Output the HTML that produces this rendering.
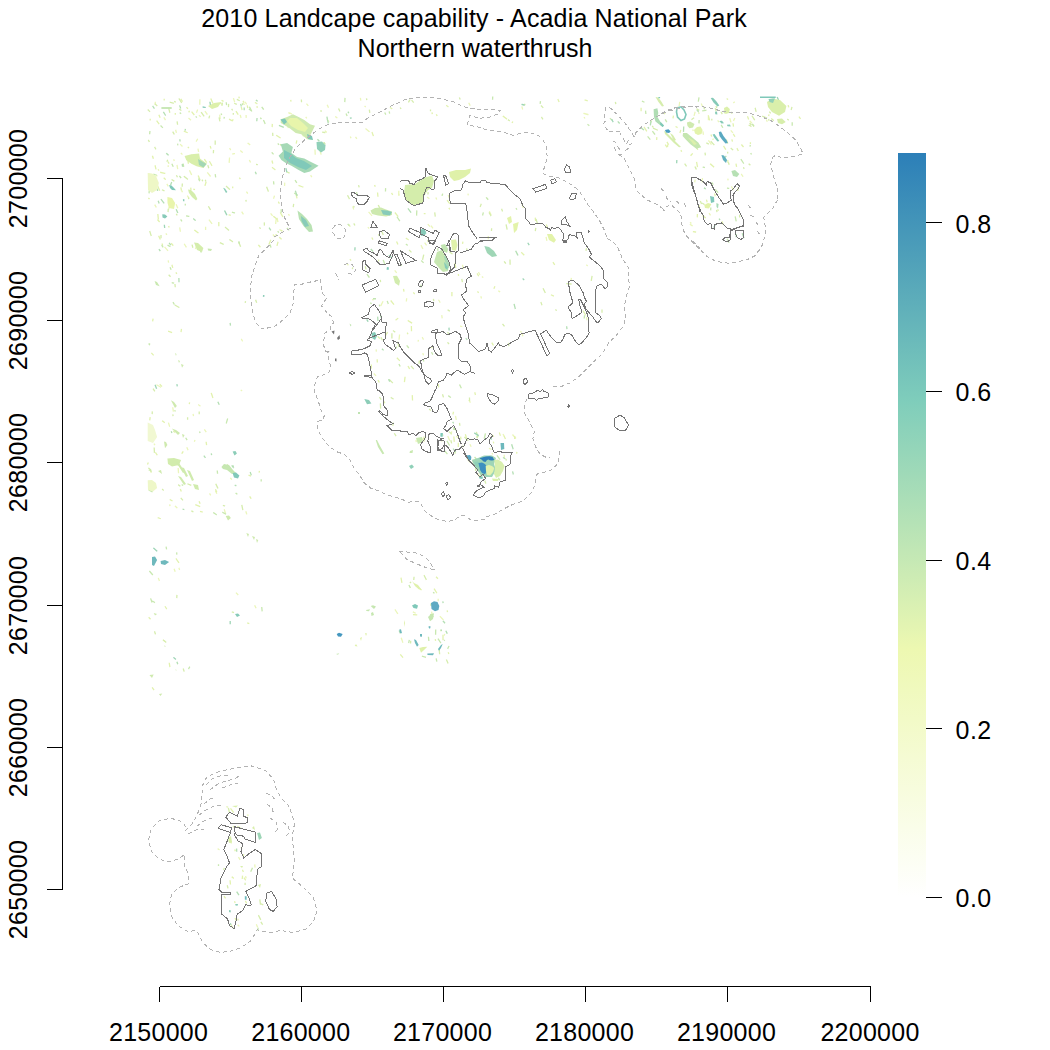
<!DOCTYPE html>
<html><head><meta charset="utf-8">
<style>
html,body{margin:0;padding:0;background:#fff;width:1050px;height:1050px;overflow:hidden;}
body{position:relative;font-family:"Liberation Sans",sans-serif;color:#000;}
.t{position:absolute;white-space:nowrap;font-size:25px;line-height:1;}
.yl{width:200px;height:25px;text-align:center;transform:rotate(-90deg);letter-spacing:0.3px;}
svg{position:absolute;left:0;top:0;}
</style></head><body>
<svg width="1050" height="1050" viewBox="0 0 1050 1050">
<defs>
<linearGradient id="cb" x1="0" y1="1" x2="0" y2="0">
<stop offset="0" stop-color="#ffffff"/>
<stop offset="0.3333" stop-color="#edf8b1"/>
<stop offset="0.6667" stop-color="#7fcdbb"/>
<stop offset="1" stop-color="#2c7fb8"/>
</linearGradient>
</defs>
<g id="map">
<g id="speckles" fill="none" stroke-width="1.3" stroke-linecap="square">
<path stroke="#ebf6bb" d="M182.0 191.2l0.2 0.4M155.0 205.2l1.0 1.7M177.1 165.5l0.5 3.0M199.9 100.0l-0.1 4.0M180.6 144.6l1.4 1.4M196.3 246.5l-0.7 1.9M167.2 184.5l0.8 1.3M155.3 102.4l-0.2 1.5M184.5 244.3l1.6 2.5M164.2 117.9l1.0 1.7M198.1 149.3l0.4 2.0M166.2 234.0l0.3 0.4M197.4 139.3l-1.0 1.7M181.3 153.4l0.7 0.7M158.4 169.7l0.2 0.4M168.2 165.9l0.0 0.5M165.0 247.3l2.6 3.1M148.8 174.2l1.4 0.6M189.0 118.5l1.5 1.3M197.4 110.2l-0.7 1.9M173.9 159.9l0.2 0.5M199.4 115.7l0.8 0.6M175.8 130.4l0.5 1.9M179.8 228.1l0.5 3.0M176.3 204.8l1.2 2.8M189.7 170.8l1.7 3.6M156.6 175.4l0.3 0.4M169.1 207.6l-0.4 1.4M187.6 196.1l0.9 1.2M219.8 115.3l0.3 3.0M246.1 115.7l0.1 1.5M245.5 102.5l0.8 1.3M233.6 98.7l0.9 2.9M243.0 103.5l1.3 0.7M240.4 115.5l0.5 1.9M220.7 103.3l1.2 0.9M205.3 111.6l1.7 2.4M248.1 143.3l1.6 1.2M249.6 160.6l0.7 1.3M229.9 148.7l0.5 0.8M240.8 150.9l1.5 1.3M209.3 220.1l2.4 3.2M205.6 227.4l0.0 2.0M229.5 158.2l-0.3 4.0M246.8 192.2l0.6 0.8M242.0 212.1l1.1 1.7M207.7 172.9l2.5 3.1M232.9 153.9l1.5 -0.2M168.3 261.1l0.2 1.0M157.0 385.1l3.5 1.9M241.2 390.3l0.4 0.3M241.6 339.5l0.7 1.3M169.8 505.0l0.1 0.5M198.7 404.9l1.2 0.9M168.6 423.2l0.9 2.9M215.7 491.4l0.9 1.8M209.9 494.0l0.5 0.8M178.2 468.6l0.3 4.0M194.8 440.6l-0.2 0.5M175.4 506.3l1.5 1.4M246.0 511.9l0.6 1.9M172.8 407.9l0.5 3.0M154.3 444.2l0.3 0.4M230.7 478.3l0.7 0.8M224.4 509.9l0.9 2.9M204.7 430.0l1.2 1.6M187.0 447.8l0.8 1.8M193.2 414.6l0.2 1.0M158.5 578.5l0.7 1.9M179.1 568.4l0.3 1.0M163.8 640.5l0.8 0.6M174.3 569.3l0.7 1.9M236.4 593.1l1.4 1.4M254.9 605.8l0.9 1.8M311.0 175.7l0.5 0.9M360.5 98.5l0.2 1.5M355.9 137.5l0.6 0.8M290.0 113.2l1.4 0.6M306.9 104.1l1.0 1.2M286.0 153.0l-0.1 0.5M366.0 128.9l3.1 2.5M335.7 116.8l1.2 0.9M306.1 117.5l0.3 0.4M274.3 196.2l-0.6 1.9M365.0 106.3l0.3 0.4M277.2 218.6l0.6 2.9M327.4 105.3l0.8 1.8M288.9 113.0l0.3 0.4M284.7 183.3l-0.1 2.0M323.6 142.8l0.0 2.0M325.2 131.1l1.1 1.0M271.0 213.8l1.2 1.6M280.0 229.8l1.3 0.8M302.3 134.2l1.0 1.7M287.8 126.1l0.4 1.4M350.6 137.2l0.2 0.5M276.1 219.4l-0.4 4.0M273.3 235.0l1.3 1.5M320.1 151.1l0.9 2.9M288.8 214.7l0.3 0.4M327.4 119.8l1.2 1.6M315.0 150.1l0.2 4.0M422.5 337.7l0.7 1.3M420.9 439.6l3.9 -0.9M468.1 194.3l0.1 0.5M441.5 440.0l0.3 0.9M416.1 440.5l0.1 1.0M399.1 194.3l-0.2 1.0M427.6 197.4l1.2 0.9M347.0 263.7l1.0 1.1M382.8 301.8l-1.8 3.6M398.8 191.5l-0.1 3.0M462.6 265.4l0.5 3.0M376.2 350.0l0.1 1.0M460.7 326.2l1.0 0.3M451.6 432.0l-0.3 2.0M448.4 195.7l0.8 1.9M406.6 298.9l-0.2 2.0M438.8 300.3l1.1 1.7M372.6 299.7l0.4 0.2M412.3 194.2l-0.1 3.0M374.2 374.0l1.4 1.4M369.0 212.4l2.6 3.0M455.6 416.4l0.6 2.9M418.3 340.4l-0.1 0.5M368.3 227.6l0.4 0.4M423.0 353.7l0.3 0.9M436.1 198.1l0.4 0.9M441.8 315.7l0.3 2.0M395.1 270.8l1.2 1.6M431.9 347.2l-0.2 0.5M421.3 245.7l1.3 2.7M425.0 243.2l1.2 1.6M431.4 226.2l1.2 1.6M418.1 438.5l0.4 2.0M399.5 335.1l-0.4 4.0M469.1 400.4l1.0 1.7M428.2 224.6l1.4 1.5M352.9 207.0l0.6 1.9M478.8 272.7l0.9 1.8M481.0 296.9l0.3 1.0M520.8 331.6l0.3 0.4M489.6 211.8l1.3 2.7M571.3 278.5l-0.2 1.5M498.8 291.1l0.8 0.5M546.2 237.4l0.6 2.9M586.8 265.2l0.4 0.3M522.2 204.3l0.8 2.9M482.4 276.9l0.4 0.3M488.3 236.6l-0.0 2.0M586.7 317.6l0.1 2.0M522.2 334.3l0.5 1.4M492.3 453.5l0.2 0.5M456.7 436.6l0.9 0.5M512.9 435.0l2.6 3.0M489.5 448.5l1.4 0.6M503.3 434.6l0.7 1.3M467.5 459.2l2.7 3.0M487.6 475.1l-0.0 1.0M470.2 444.8l0.7 1.4M487.6 470.4l0.1 0.5M475.5 458.9l-0.1 0.5M448.0 436.5l1.6 3.7M504.2 455.4l0.1 2.0M469.0 103.3l0.9 1.8M584.0 113.5l3.9 1.0M522.0 107.0l0.5 1.9M584.4 117.6l0.2 0.4M750.1 121.3l1.4 1.4M698.7 112.8l0.2 0.5M734.2 102.2l-0.4 0.3M702.4 178.7l-0.3 3.0M731.2 130.9l1.3 1.5M734.6 118.5l-0.8 1.8M779.4 109.8l1.0 1.7M695.0 112.4l-0.8 2.9M729.9 118.8l0.9 2.9M679.6 102.5l-0.4 3.0M701.5 104.2l0.8 1.8M718.0 120.9l0.6 0.8M741.6 174.5l1.1 1.7M703.0 132.1l0.3 2.0M708.4 115.6l-0.0 4.0M692.9 130.0l0.2 0.5M712.8 139.3l0.5 -0.1M776.8 106.1l0.3 0.4M708.8 140.9l2.3 3.3M766.6 120.2l0.4 0.9M709.4 213.6l0.8 1.3M699.3 205.9l0.3 2.0M690.4 224.5l1.7 1.1M690.5 222.7l0.4 0.3M695.1 180.2l-0.3 1.5M731.7 187.0l1.5 2.6M727.9 179.2l0.1 0.5M440.3 616.6l2.7 2.9M444.5 634.6l-0.1 0.5M438.2 599.5l0.0 1.0M440.7 630.3l0.3 0.4M401.4 638.3l1.3 3.8M395.3 610.0l2.2 3.3M413.4 612.2l1.8 0.8M431.7 612.3l0.3 1.5M218.2 849.0l0.8 0.5M247.8 814.9l0.1 0.5M230.7 924.3l2.1 3.4M238.8 857.6l1.0 1.7M238.1 925.2l0.7 0.7M245.7 876.7l0.3 1.0M256.6 924.9l0.8 1.8M254.8 865.0l0.2 2.0"/>
<path stroke="#e2f2ae" d="M157.9 220.0l1.3 1.5M189.2 111.4l-0.2 0.4M181.0 188.1l0.4 2.0M168.8 226.5l0.2 0.5M158.9 236.3l1.2 2.7M164.2 99.3l0.0 0.5M188.0 161.1l0.3 2.0M150.2 119.4l0.0 0.5M188.2 147.3l0.3 0.4M181.1 99.4l1.1 1.7M171.6 243.7l1.3 1.5M193.9 189.3l0.5 0.1M153.7 175.4l1.0 2.8M190.8 188.3l0.1 1.0M186.9 107.6l0.6 0.8M155.2 165.9l0.7 2.9M194.8 230.3l3.2 2.4M148.8 198.3l0.3 0.4M157.9 214.7l0.4 4.0M184.4 131.3l2.7 1.2M198.4 176.0l1.5 3.7M160.8 172.4l3.9 0.9M175.3 113.6l0.0 0.5M152.6 156.3l0.6 1.9M157.0 121.2l1.8 2.4M168.3 162.2l0.5 0.9M192.8 193.3l-0.4 2.0M157.9 186.4l1.5 3.7M162.2 244.1l0.3 0.9M159.1 115.3l0.8 1.9M192.0 112.2l1.9 2.3M164.2 178.2l1.1 1.0M236.3 111.6l1.6 2.5M229.6 119.4l1.8 0.9M222.1 100.6l0.9 0.5M241.4 107.5l0.5 1.9M243.3 101.4l0.5 0.8M239.0 97.2l0.1 0.5M257.1 106.8l0.1 0.5M232.9 119.8l-0.4 0.9M255.5 102.7l1.3 0.8M211.0 99.1l1.6 3.7M247.4 106.1l0.3 1.5M210.4 146.6l0.4 1.4M229.2 215.0l1.0 0.2M232.7 187.1l0.0 0.5M209.7 161.8l2.0 3.5M206.0 182.4l-0.9 2.9M218.8 222.6l-0.0 3.0M258.7 245.3l1.3 1.5M204.7 159.7l1.7 2.5M239.7 178.1l0.3 0.4M172.1 265.4l0.5 1.9M151.8 353.4l1.4 1.5M181.4 329.5l-0.3 2.0M153.0 319.3l-0.3 1.5M160.2 384.7l1.4 1.4M168.7 331.3l2.8 1.0M176.2 273.0l0.3 0.4M211.4 393.5l1.3 3.8M250.0 496.9l0.8 1.3M182.9 451.9l-0.8 1.3M170.3 499.7l1.7 1.0M195.9 504.9l3.7 1.5M158.3 517.9l1.9 0.6M180.5 489.5l0.6 1.4M206.2 442.4l0.3 2.0M259.3 471.6l-0.1 0.5M200.6 511.6l1.5 0.3M215.7 489.9l0.9 1.8M150.1 417.8l-0.3 2.0M199.3 501.8l0.6 1.4M162.6 421.1l1.6 1.2M173.8 431.5l0.8 0.6M189.5 402.9l-0.1 0.5M249.1 475.3l1.4 0.5M155.8 453.0l1.1 1.7M150.4 470.7l0.7 1.3M148.1 463.0l-0.4 0.9M165.3 606.8l1.1 1.7M169.3 663.4l0.5 3.0M149.1 617.7l1.0 1.1M176.3 559.0l2.3 3.3M152.5 688.0l1.2 1.6M247.8 623.1l0.9 0.3M277.9 242.4l-0.8 2.9M290.8 100.4l0.1 0.5M390.4 107.7l1.3 0.8M296.7 141.1l-0.4 2.0M318.9 144.5l0.7 0.7M299.1 185.6l3.7 1.4M272.1 161.1l0.5 1.9M272.5 167.7l2.4 1.8M286.6 153.8l2.0 3.5M279.7 237.6l1.5 1.3M278.6 202.2l0.5 0.9M280.6 213.0l2.0 3.4M276.7 135.6l3.4 2.1M273.8 216.6l3.1 2.5M281.5 230.7l0.5 0.2M372.2 132.7l1.0 2.8M272.3 124.5l-0.1 2.0M270.6 240.3l-1.5 3.7M296.2 194.9l0.7 2.9M276.1 234.6l0.1 1.0M377.6 193.1l0.3 3.0M372.1 238.1l0.5 0.9M377.2 359.9l0.1 2.0M395.3 213.0l2.5 3.1M391.9 193.5l0.5 0.8M408.3 366.6l1.0 1.8M387.3 332.6l-1.6 2.5M378.3 380.6l0.7 1.3M455.0 263.4l0.7 3.9M449.2 208.4l0.3 0.4M474.9 392.9l0.4 1.5M403.6 289.5l0.3 1.5M423.9 437.1l0.1 4.0M412.3 395.8l0.2 4.0M378.1 336.8l1.5 1.4M413.7 292.9l0.6 0.8M406.4 238.5l1.7 1.0M458.4 274.7l0.1 0.5M427.8 240.7l0.4 0.9M384.0 401.7l0.5 0.9M407.5 333.2l0.2 0.4M447.5 200.7l1.8 2.4M417.5 186.6l-0.6 2.9M391.1 301.0l2.5 3.1M462.8 242.3l-0.2 1.0M411.4 326.7l0.1 4.0M374.8 185.6l0.2 0.5M378.6 260.3l0.1 0.5M408.3 320.7l3.3 2.2M405.0 377.4l-0.5 4.0M397.7 318.6l-1.6 1.2M453.4 412.4l-0.4 1.5M438.4 384.7l0.2 2.0M350.3 259.6l0.3 0.4M349.0 225.0l0.9 1.2M397.3 358.2l2.1 2.2M424.4 213.6l0.5 -0.0M396.8 242.0l0.8 1.8M451.9 292.7l0.0 3.0M453.9 437.2l0.3 4.0M460.7 437.2l0.2 1.5M371.3 365.2l-0.1 3.0M477.9 291.9l0.3 0.4M477.4 274.0l1.0 1.7M553.3 262.6l1.1 1.7M521.7 252.7l2.1 2.1M535.3 218.3l0.2 2.0M546.5 225.0l0.8 1.9M494.7 286.8l-0.6 1.4M583.4 311.2l2.0 3.5M492.1 343.2l1.0 1.7M551.5 295.0l1.8 0.8M497.6 472.7l1.3 1.5M493.5 442.3l0.1 0.5M477.7 473.6l2.1 3.4M504.4 436.7l0.8 1.8M465.5 434.8l1.2 3.8M462.9 446.1l0.2 0.5M473.0 460.0l0.1 2.0M492.3 435.3l1.2 0.9M479.1 470.4l1.4 1.5M516.8 452.5l-0.1 0.5M514.8 436.8l-0.1 1.5M458.3 443.4l-0.0 3.0M499.5 433.2l0.7 1.9M436.6 114.9l0.3 0.4M512.5 122.1l-0.2 0.4M432.1 113.0l0.1 0.5M558.1 99.7l0.8 1.8M503.3 116.3l3.2 2.5M446.7 105.7l1.2 0.9M585.2 100.0l1.9 0.7M736.1 164.3l0.4 2.0M752.9 124.7l0.6 1.4M665.6 145.2l1.2 1.6M676.1 126.8l0.9 0.5M710.6 164.1l3.0 2.7M799.3 117.1l0.9 1.2M733.6 134.5l1.0 1.7M768.9 114.9l-0.1 0.5M711.2 135.1l0.3 0.9M727.2 98.9l0.4 0.3M681.2 150.7l0.2 0.4M667.7 145.2l-0.1 1.0M733.1 123.9l0.3 2.0M644.4 127.5l2.1 3.4M677.8 107.3l0.4 0.4M732.0 140.0l0.3 1.0M727.8 160.8l0.2 1.5M673.4 116.2l-0.3 1.5M737.2 148.7l0.9 1.8M664.3 113.1l0.3 0.4M788.3 105.7l0.3 1.0M692.3 153.8l-1.3 1.5M747.7 116.9l0.7 1.9M696.7 162.6l0.7 3.9M680.6 130.5l-0.5 1.9M726.6 140.2l1.0 2.8M656.8 137.8l-0.1 1.5M667.3 142.5l1.0 1.7M723.9 146.5l1.6 2.6M741.8 145.0l1.3 1.5M750.4 142.8l-0.0 0.5M708.7 116.9l0.8 2.9M641.1 108.5l-0.0 2.0M722.2 221.9l0.7 1.9M738.0 188.3l-0.2 2.0M693.5 231.7l2.0 0.3M697.4 214.7l-0.1 2.0M706.6 200.2l0.4 1.4M702.9 215.9l2.4 1.7M714.7 194.1l0.4 1.5M717.8 210.0l0.5 0.2M443.0 635.5l-0.0 4.0M400.7 654.8l1.9 2.3M413.6 614.7l3.0 0.1M434.4 589.1l2.1 3.4M436.5 577.2l1.0 1.1M420.3 589.1l0.8 0.6M447.3 611.0l0.1 0.5M401.1 578.3l0.7 3.9M435.4 639.8l0.1 0.5M448.4 652.8l0.2 0.5M227.0 806.8l0.5 0.2M242.7 870.4l0.4 0.9M242.5 876.3l-0.2 2.0M230.1 880.9l0.3 3.0M241.4 847.6l0.2 0.4M232.2 877.1l1.1 1.0M234.7 901.8l0.2 0.5M245.7 901.5l0.7 1.3M244.3 878.2l1.1 1.7M243.7 854.9l-0.5 0.9M224.4 896.7l0.8 1.2M235.3 918.6l0.9 1.8M237.8 826.6l2.6 1.5M229.2 840.6l2.0 2.2M234.9 850.1l0.2 0.5M238.0 919.4l0.0 0.5M233.5 826.6l0.4 0.3M230.9 808.9l2.4 3.2"/>
<path stroke="#d6edad" d="M149.9 231.6l1.2 3.8M148.2 110.0l1.4 1.4M174.7 101.6l0.5 0.2M168.7 108.2l1.0 3.9M179.7 109.3l1.2 0.9M168.2 209.5l-0.1 2.0M172.1 179.8l1.7 1.1M173.0 132.2l1.0 1.7M188.6 198.0l0.1 0.5M193.8 155.8l0.7 1.3M191.2 155.5l1.7 2.5M162.5 190.0l1.4 0.6M155.3 104.2l1.5 1.3M184.3 176.6l3.1 2.5M176.6 214.5l0.3 0.4M170.3 102.4l2.9 0.8M177.2 122.1l0.3 2.0M192.2 245.2l0.5 1.9M148.6 140.5l0.5 0.9M167.5 160.3l-0.4 0.9M176.7 175.8l0.5 0.9M179.2 99.0l2.2 3.4M154.9 147.5l0.7 1.3M182.3 184.1l-0.1 2.0M161.0 235.6l-0.0 2.0M234.8 103.5l1.4 0.6M237.4 99.6l1.8 0.9M222.3 103.2l-0.3 2.0M209.5 116.2l-0.4 1.5M228.6 104.5l-0.1 2.0M219.2 117.9l0.6 2.9M201.5 112.6l2.3 3.2M232.0 109.5l0.3 0.4M233.3 113.6l-0.0 0.5M225.5 227.4l3.0 2.6M205.5 180.4l0.2 0.5M215.2 141.1l-0.0 3.0M213.5 150.6l-0.1 2.0M238.9 242.5l1.5 3.7M256.7 164.5l0.5 0.1M246.0 200.5l0.1 0.5M208.0 165.7l0.6 1.9M208.7 206.8l1.5 2.6M259.9 227.9l0.4 0.3M220.4 242.9l2.7 1.3M202.3 180.2l0.2 0.4M226.5 186.5l3.0 2.7M229.9 239.8l2.5 1.7M175.0 284.6l0.2 2.0M175.3 305.3l3.5 2.0M169.1 275.2l1.0 1.1M153.4 389.1l1.1 1.7M255.8 300.3l0.7 1.9M245.4 301.8l-0.1 0.5M227.6 465.0l0.5 0.9M178.7 485.0l1.2 0.9M223.5 505.6l1.0 0.2M148.8 468.3l1.5 1.3M191.9 511.2l0.9 0.4M181.2 498.4l1.3 1.5M216.0 484.3l1.7 3.6M154.2 448.2l0.2 4.0M162.6 489.4l0.7 0.7M172.9 415.1l0.1 0.5M187.6 418.0l-0.0 1.0M199.2 412.1l-0.0 1.5M188.0 484.0l2.7 1.2M152.3 412.0l-0.1 1.5M241.9 505.5l0.8 3.9M154.7 631.9l0.6 1.9M163.4 640.2l2.3 1.9M183.4 669.1l0.6 1.9M176.9 595.5l-0.1 2.0M232.4 612.1l1.0 0.3M296.7 159.5l0.6 0.8M322.8 132.2l2.0 0.4M400.5 108.0l0.2 0.4M366.6 98.9l0.1 0.5M266.8 187.3l1.4 3.7M412.0 100.6l1.3 1.6M272.7 133.4l0.1 2.0M280.5 144.6l0.6 0.8M320.3 143.1l1.3 1.5M321.0 110.7l0.1 0.5M293.6 204.5l-0.3 2.0M264.3 223.0l0.1 2.0M287.2 172.0l1.8 0.8M301.4 100.1l0.1 1.5M369.4 110.2l0.3 2.0M338.8 109.0l0.8 1.8M409.7 100.1l-1.0 1.7M389.5 379.8l2.9 2.8M378.5 205.5l0.9 1.8M354.1 224.0l0.5 0.9M459.6 423.6l0.2 1.5M423.6 255.3l-0.9 3.9M476.7 436.9l0.6 0.8M393.1 423.1l-0.2 2.0M411.4 366.4l1.9 2.3M391.9 333.8l0.0 4.0M381.3 337.9l0.8 1.8M352.6 267.9l-0.1 0.5M419.9 440.1l0.8 1.8M365.4 266.9l0.5 1.9M391.3 397.7l1.7 1.1M449.6 251.9l2.4 1.8M381.8 231.5l1.2 2.8M353.9 206.6l-0.1 0.5M378.7 234.8l0.5 0.8M447.9 332.6l1.3 1.5M466.8 249.1l0.1 0.5M428.1 192.8l-0.1 1.0M379.8 397.6l1.1 1.6M419.3 361.3l-0.3 2.0M397.8 342.3l0.9 3.9M409.6 250.5l1.4 1.4M469.5 398.2l0.1 2.0M429.6 409.5l0.8 0.6M347.8 195.8l1.4 2.7M393.5 330.9l1.2 0.9M448.1 310.1l1.2 0.8M358.7 185.7l0.3 1.0M394.6 433.8l1.1 1.7M447.9 342.8l0.7 0.7M442.4 434.3l0.4 0.9M380.4 404.0l0.2 4.0M434.8 213.0l0.4 3.0M409.0 190.9l0.4 0.9M461.9 279.6l0.4 2.0M433.5 299.4l0.2 1.0M380.4 280.5l0.1 1.0M442.7 394.9l0.6 1.9M592.0 276.4l-0.7 3.9M535.7 228.5l-0.3 2.0M491.6 228.9l-0.1 1.5M510.0 260.2l0.1 4.0M508.6 343.5l0.2 2.0M481.1 204.4l-0.7 1.9M501.8 209.4l0.5 1.4M502.9 324.3l1.2 1.6M506.2 225.0l0.8 3.9M567.0 283.7l4.0 0.3M504.5 261.8l0.9 1.2M586.4 248.7l-0.3 1.5M543.3 288.9l1.8 3.6M536.2 219.6l1.2 3.8M555.9 309.9l0.4 0.3M602.0 310.1l-0.0 2.0M541.1 302.7l0.7 1.9M489.3 212.9l1.5 2.6M451.0 440.9l0.5 1.9M490.1 456.2l1.4 1.5M485.0 481.1l0.6 1.9M464.9 437.5l2.9 2.7M476.5 432.5l1.3 3.8M476.9 459.3l-0.4 2.0M506.1 459.5l0.1 0.5M459.9 439.4l0.2 2.0M454.6 451.1l0.5 1.9M478.6 468.7l0.6 1.4M449.3 432.1l1.6 1.2M475.8 467.2l-0.2 3.0M508.4 120.0l0.8 0.6M541.8 117.5l0.8 1.3M430.5 110.1l-0.0 0.5M459.6 98.0l0.4 0.9M615.5 102.5l0.2 1.0M524.8 104.4l-0.2 0.5M541.4 106.0l1.4 1.4M791.8 107.5l-0.5 1.9M711.8 119.3l0.0 0.5M696.9 148.4l0.6 0.8M752.3 116.3l2.1 3.4M687.3 138.8l0.1 0.5M771.8 119.0l1.5 1.3M716.2 106.5l0.4 0.9M749.1 164.1l0.8 0.7M787.8 119.5l0.4 0.3M731.2 148.4l1.5 1.3M653.6 128.4l3.7 1.6M755.3 108.4l0.7 2.9M695.2 167.1l0.9 1.8M723.8 111.3l1.1 1.6M715.4 108.7l0.6 1.9M697.0 109.1l1.7 1.0M727.7 152.4l0.0 0.5M769.7 112.1l0.6 0.8M728.5 162.8l0.5 1.4M749.2 125.3l1.7 1.0M693.6 118.1l-1.6 1.2M743.7 167.9l0.2 0.4M768.8 119.7l0.2 0.5M711.2 141.7l2.7 2.9M721.2 112.3l0.8 1.3M703.9 107.3l0.4 1.4M750.0 123.3l0.9 1.2M652.6 126.5l0.3 0.4M762.8 116.4l3.7 1.5M731.2 112.4l0.6 0.8M651.1 120.9l-0.1 1.0M705.1 153.2l0.2 1.5M706.9 143.2l1.4 0.6M685.0 164.2l1.2 1.6M700.5 201.5l0.8 1.8M739.6 215.3l-0.0 1.5M702.8 203.4l1.2 0.9M716.7 210.6l0.2 1.0M446.6 660.0l1.2 2.8M424.3 575.7l1.8 3.6M410.7 641.4l-0.1 1.5M439.2 649.6l0.4 4.0M430.9 604.2l0.1 1.0M410.6 582.3l-0.3 0.4M414.0 577.4l-0.2 2.0M227.4 885.9l0.5 1.9M261.2 922.4l1.1 1.7M259.9 900.1l0.5 4.0M224.1 868.5l-0.3 0.9M228.5 808.5l0.9 3.9M260.9 903.8l1.8 0.9M245.1 883.3l0.0 1.0M258.7 915.7l1.8 3.6"/>
<path stroke="#c8e8b0" d="M172.1 164.4l0.9 1.8M199.9 249.3l1.2 2.7M162.0 245.6l0.8 1.3M161.0 126.0l1.4 1.4M179.8 176.3l0.9 1.2M181.0 220.0l0.6 0.8M177.7 144.3l0.1 0.5M149.9 131.6l-0.2 2.0M198.8 179.2l0.6 1.4M183.3 164.3l0.3 2.0M196.1 116.8l0.3 0.4M180.2 113.0l0.4 0.3M185.3 204.3l-0.0 0.5M154.0 174.4l1.9 0.6M186.7 216.0l2.0 0.3M149.2 191.2l-0.1 1.5M152.0 188.4l-0.2 0.5M168.1 245.4l1.8 0.9M224.2 117.6l-0.1 0.5M260.7 118.1l0.3 0.4M221.3 114.1l0.2 0.4M249.7 107.3l1.8 3.6M226.3 102.9l0.2 1.5M242.5 103.9l0.1 0.5M249.4 109.4l1.6 1.1M232.5 212.3l1.9 0.5M215.3 174.8l0.3 2.0M200.6 248.9l0.6 0.8M238.9 241.9l0.4 1.4M170.3 267.8l0.6 1.4M173.3 302.7l0.8 1.3M227.5 419.1l-1.1 3.8M222.9 512.5l2.6 1.4M199.7 432.0l0.2 0.5M236.1 493.3l0.8 0.6M177.6 463.0l0.6 1.9M217.3 471.1l0.2 2.0M261.2 479.9l-0.0 1.0M149.3 490.2l2.7 1.4M182.2 484.9l0.4 0.3M213.7 512.8l2.5 1.7M186.0 438.3l0.8 1.3M189.5 667.2l-0.7 1.3M152.7 601.3l1.7 1.0M176.7 553.0l0.1 1.0M149.8 571.5l2.6 3.0M150.8 599.0l1.0 2.8M166.2 547.3l0.3 1.5M261.8 607.7l0.3 3.0M272.1 152.8l1.0 1.1M345.0 98.5l-0.2 3.0M281.2 210.0l-0.0 2.0M270.3 245.1l0.5 1.9M273.6 181.9l0.2 2.0M294.7 193.3l2.5 1.7M278.1 231.7l0.3 0.4M346.3 114.0l0.6 1.4M263.7 120.5l1.2 2.8M324.3 142.8l0.7 1.3M295.4 180.7l1.1 1.7M385.0 113.1l0.5 0.9M278.2 143.9l0.3 0.4M389.3 111.9l0.2 1.0M287.3 228.5l1.4 1.4M262.1 107.4l1.2 1.6M406.4 244.5l0.8 0.5M397.3 217.3l2.2 3.3M421.7 261.0l1.4 1.4M407.1 345.9l1.3 1.6M437.8 249.0l-0.0 1.0M448.8 396.0l1.6 1.2M348.1 224.3l0.6 0.8M445.1 451.3l1.9 2.3M400.5 263.5l0.7 1.9M399.2 364.6l0.7 1.3M454.6 428.7l2.0 2.2M387.4 301.5l0.7 1.9M459.8 385.0l1.3 2.7M385.6 188.8l-0.1 2.0M423.3 360.0l0.4 0.9M416.8 211.0l-0.2 4.0M367.3 274.6l1.7 2.4M453.7 427.8l0.1 1.5M421.0 285.3l-0.0 1.5M442.5 194.2l-0.3 1.0M356.7 192.8l0.3 2.0M383.4 260.5l1.4 3.7M431.8 352.7l0.7 1.3M370.8 303.1l0.4 0.3M396.3 347.1l0.2 0.5M379.5 305.3l0.1 0.5M516.3 208.7l0.3 0.4M483.2 213.0l-0.5 1.9M584.5 315.9l-0.2 2.0M486.5 197.8l1.3 1.5M477.6 435.0l0.0 0.5M475.0 457.5l1.0 1.1M480.3 473.6l1.3 3.8M498.7 478.3l0.7 1.4M447.3 441.5l2.0 3.5M497.3 456.0l2.4 3.2M485.3 434.1l-0.9 3.9M540.4 101.8l-0.2 1.5M492.7 97.1l-0.1 2.0M610.4 118.7l1.6 1.2M588.0 124.7l0.8 0.6M752.3 124.3l1.4 1.4M792.2 123.0l-0.0 2.0M721.5 125.5l1.0 1.7M652.8 131.6l1.8 2.4M665.5 119.9l1.0 1.7M702.8 110.8l3.0 -0.5M645.6 111.3l0.2 2.0M751.0 153.6l0.2 0.4M648.0 136.8l1.9 2.3M699.1 120.7l-0.1 2.0M642.5 101.4l1.4 0.6M750.2 145.6l-0.1 0.5M703.3 167.2l1.0 0.2M698.9 98.1l-0.5 2.9M741.2 159.7l2.2 3.3M710.8 208.2l-0.1 1.5M715.7 190.0l2.0 2.2M727.4 239.4l1.4 2.7M727.6 188.2l1.0 0.1M712.0 182.9l0.9 1.2M735.3 216.9l0.8 3.9M428.5 637.4l0.3 3.0M422.5 656.3l2.9 0.8M430.7 614.6l2.2 2.0M436.3 659.0l0.4 2.0M409.2 640.4l-0.4 2.0M433.6 592.6l0.4 0.3M448.8 646.5l-0.9 1.8M409.2 585.6l0.9 1.8M435.7 630.2l-0.1 4.0M438.3 639.1l2.2 3.4M258.1 928.3l-0.1 1.5M252.2 868.4l-1.2 2.7M218.5 864.9l0.0 0.5"/>
<path stroke="#b4dfb4" d="M171.5 182.6l-0.7 1.9M179.9 139.9l0.1 1.0M176.4 209.8l1.2 2.7M182.3 164.6l0.2 1.5M193.7 218.9l1.5 1.3M185.3 129.6l-0.1 0.5M161.3 199.7l2.5 3.1M169.5 243.4l0.9 1.2M157.4 189.3l0.1 1.0M159.3 249.7l0.6 0.8M158.4 201.4l0.5 1.4M153.0 106.5l1.1 1.6M166.7 153.6l1.5 1.3M163.7 112.4l1.6 2.6M179.8 106.0l0.7 1.9M256.4 100.3l0.8 0.6M240.8 104.5l0.4 1.4M257.0 118.6l-0.2 2.0M244.2 108.2l0.0 1.5M255.5 172.3l0.6 1.4M178.9 278.6l0.1 3.0M218.1 402.4l0.9 1.8M230.2 323.5l0.2 1.5M233.1 465.9l0.1 0.5M171.5 431.9l0.2 0.5M250.4 472.7l0.7 1.9M211.4 454.0l0.1 0.5M232.1 465.9l1.3 1.6M153.4 429.6l0.6 1.9M235.3 485.4l0.5 0.1M204.2 456.2l0.9 1.2M183.2 509.3l0.5 0.1M150.7 438.4l0.4 2.0M177.1 662.3l0.5 1.4M269.4 228.2l1.1 1.7M317.9 139.7l1.0 1.1M295.5 191.3l1.3 3.8M279.5 125.6l3.7 1.5M327.0 117.2l0.3 1.5M348.3 112.2l0.2 0.4M327.3 118.9l0.9 3.9M395.0 278.0l2.7 2.9M453.5 449.1l1.9 2.3M380.7 315.8l0.1 1.0M371.2 249.5l1.4 1.5M408.3 209.0l2.4 3.2M388.8 379.8l0.7 1.3M377.7 317.3l0.2 3.0M382.4 349.2l0.7 0.7M453.0 422.4l0.3 0.4M466.2 338.7l0.7 0.7M566.7 326.9l0.2 1.5M515.9 251.3l1.8 3.6M514.2 304.5l1.0 3.9M503.5 457.8l1.3 0.7M511.8 444.8l1.2 3.8M474.8 462.8l2.7 1.3M512.7 472.0l0.5 1.9M618.2 121.9l1.0 1.1M648.2 127.6l0.3 0.4M725.9 156.3l-2.1 2.2M683.7 127.2l-0.2 4.0M697.3 110.7l0.8 0.6M641.2 127.8l2.3 1.9M650.9 121.8l-0.5 3.0M742.4 233.8l1.4 3.8M704.5 188.1l0.8 0.6M736.3 234.6l-0.1 2.0M719.4 219.2l0.3 0.4M443.3 621.3l1.3 1.5M399.4 631.1l0.8 1.8M442.9 601.9l0.1 0.5M446.1 631.3l0.9 1.8M441.2 630.1l0.1 0.5M236.6 849.1l0.1 2.0M237.0 892.1l1.6 2.5"/>
<path stroke="#9ed5b6" d="M164.4 225.4l0.2 2.0M210.0 102.4l0.3 2.0M224.8 211.0l1.8 3.6M155.3 385.4l1.1 2.8M177.0 384.8l0.2 1.0M153.8 548.3l3.0 2.6M173.9 657.8l1.5 1.3M230.2 621.6l-0.0 2.0M286.0 168.7l0.7 2.9M350.5 118.1l0.5 -0.1M367.0 319.9l0.8 1.3M449.0 328.3l0.1 1.5M355.0 247.9l-0.1 2.0M389.3 255.7l2.3 1.9M523.1 278.9l0.7 0.7M528.1 243.3l0.8 1.3M491.1 438.1l0.1 1.0M474.8 433.2l3.4 2.2M611.9 119.8l1.0 1.7M522.1 104.5l1.9 0.5M676.8 160.6l-0.1 2.0M777.4 97.5l0.8 1.8M714.9 225.3l-0.8 1.8M230.5 923.8l0.3 0.4"/>
</g>
<g id="blobs">
<!-- tile 250-400 x 90-240 -->
<path fill="#cfeab0" d="M280.7 119.3L287.1 117.1L292.9 114.3L298.6 117.1L304.3 120L310 124.3L315 125.7L312.9 130L310 135.7L312.9 140L307.1 139.3L301.4 134.3L295.7 132.9L290 128.6L284.3 125L280.7 122.9Z"/>
<path fill="#e8f5ab" d="M290 118L297 118L303 123L308 128L305 132L298 130L291 126L287 121Z"/>
<path fill="#7fc8b8" d="M280.5 119.5L285 118.5L287 122L284 124.5Z M307 134L312 136L313 140L308 139Z"/>
<path fill="#a6d9b6" d="M280.7 144.3L287.1 142.9L292.9 147.1L291.4 152.9L297.1 157.1L304.3 158.6L310 161.4L318.6 165.7L314.3 168.6L310 171.4L304.3 172.9L298.6 170L291.4 165.7L285.7 162.9L281.4 160L278.6 155.7L282.9 151.4Z"/>
<path fill="#80c9b9" d="M284 150L290 153L296 158L304 161L312 166L306 170L298 167L290 163L284 158Z"/>
<path fill="#8fd0b9" d="M316.5 142L322 141.5L325.5 145.5L325 150L321 152.5L317 149Z"/>
<path fill="#b9e2b3" d="M297.5 210.5L302 214L307 219L311.5 225L313 231.5L309 232L303.5 226L299 219Z"/>
<path fill="#88cbb8" d="M301 216L306 220L309 226L305 227L301.5 221Z"/>
<path fill="#cde9af" d="M370.5 210.5L375 208L381 207.5L386 209.5L392 211.5L392 215L386 216.5L378 215.5L372 214Z"/>
<path fill="#87cbb9" d="M381 210L387 210.5L392 212L390 215.5L383 214.5Z"/>
<!-- tile 400-550 -->
<path fill="#dff1a9" d="M449 172L456 170L465 170L471 168.5L470 173L465 177L459 180L454 181L450 177Z"/>
<path fill="#d4edab" d="M405 185L410 184.5L415 184L421 180L425 177.5L432 175.5L434 181L432 188L428 190L424 196L423 203L414 205L410 204L405 199L404 193Z"/>
<path fill="#8ccdb8" d="M420.5 230.5L425 230L426.5 233.5L422 234.5Z"/>
<!-- Schoodic blobs -->






<path fill="#c7e7b1" d="M437 252L442 250L446 258L449 265L448 271L443 272L439 268L434 262Z"/>
<path fill="#86cab8" d="M444 262L448 266L447.5 270L445 268Z"/>
<path fill="#e3f3aa" d="M547 234L552 234L556 240L554 242.7L549 240Z M507 218L511 216L512 222L509 224Z M513 224L518.7 222L517 230L514 233Z"/>
<path fill="#9fd6b6" d="M484.3 246L489 247L494 251L497.1 256L492 257.1L487 253Z"/>
<path fill="#7ec8b9" d="M387 267L389 267.5L388.5 270L386.5 269.5Z"/>
<path fill="#d2ecae" d="M393 276L397 275.7L400 281L399 285.7L395 283Z"/>
<path fill="#86cab8" d="M371.4 333L375 332L377 336L375 340L372 338Z"/>
<path fill="#8ccdb8" d="M263 295L264.5 295L264.3 297L262.8 296.7Z"/>
<path fill="#c2e5b2" d="M373 298L376 298L376 299.5L373 299.5Z M349.5 323.5L351.5 325L350.5 326.5Z"/>
<path fill="#8ccdb8" d="M364.3 399L369 400L371.4 403.5L367 404.3Z"/>
<path fill="#bfe3b2" d="M358 412L360 412L360 414L358 414Z"/>
<path fill="#c8e8b1" d="M375.7 440L377 440L380 446L384.3 453.5L382.5 454.3L378 447Z"/>
<path fill="#9fd5b7" d="M472 460L478 458L484 455.5L492 455.5L496 458L494 464L496 470L492 477L486 477L481 475L477 470L474 466Z"/>
<path fill="#d9efae" d="M494.3 460L498 459.5L502 462L504.6 466L503 471L500 476L496 478L494 474L495 468Z"/>
<path fill="#5ba8c2" d="M466.3 455.5L470 455.1L471.4 457L471 460L468.5 460L466.5 458Z"/>
<path fill="#8fd0b8" d="M474.3 462L478 461.5L480 464L479 467.4L476 466.5Z"/>
<path fill="#3d8fbf" d="M478.5 463L482 462.5L485 464L487 467L486.9 471L485 474.3L482 473L480 470Z"/>
<path fill="#2f7fb8" d="M479.4 458.3L483 457.2L486 456.6L489.7 456.3L492.6 457.1L494.3 460L492 460.6L489.7 460.2L488.5 459.5L487 460L485.5 462L483.5 461.5L481.5 459.5Z"/>
<path fill="#e3f3ae" d="M485.7 466L489 465L492 466L494.3 468L493 472L490 475.4L487 475L486 471Z"/>
<path fill="#dcf0ac" d="M492 478.5L498.9 479L498 481.1L493 481Z"/>
<path fill="#7fc8b9" d="M479 477L482.9 476.6L482.5 478.9L479.5 478.5Z"/>
<path fill="#6db8bd" d="M500.5 443L504 443L504.3 449L501 450Z"/>
<path fill="#7ec8b9" d="M440.5 433L442.9 433L442.5 437L440.3 436.5Z"/>
<path fill="#c9e9b0" d="M416 438L422 437L423 442L418 444Z M410 451L413 450L412.5 453L409.5 453Z"/>
<path fill="#8fd0b8" d="M409 466L412 464.5L414 467L411 469Z"/>

<path fill="#7fc8b9" d="M710 196L714 197L714.3 202L711 202.9Z"/>
<path fill="#a9dab5" d="M716.4 203L718.6 204L718 208.6L716.5 207Z"/>
<path fill="#e3f3aa" d="M704.3 205L708 203L711.4 204L709 208.6L705 208Z"/>






<path fill="#d6edad" d="M655.5 97L658 97.5L661 101L664 106L662 106.5L658.5 102Z M664 130.5L667 133L672 138L677 143L681 147L679 147.3L674 143L669 138L665 134Z M670 133L673 135L676 140L674 141Z"/>
<path fill="#b0ddb4" d="M653.6 109.2L657.4 108.3L658.3 113L657.4 116.9L660.2 121.6L664 125.4L662.6 126.9L659.3 124.5L655.5 121.6L654 116.9Z"/>
<path fill="#7fc8b9" d="M660.5 122L664 125.4L662.6 126.9L660 124.5Z"/>
<path fill="none" stroke="#7fc8b9" stroke-width="1.6" d="M677 108L681 106.8L684 110L686 114.5L684.5 119L681 120.6L677.5 117L676.5 112Z"/>
<path fill="#4a9cc0" d="M665 130L668.5 129.2L670.7 131.5L669 133L666 132.5Z"/>
<path fill="#c5e6b0" d="M683.1 133L686.9 133L692.6 137.8L698.3 142.6L701.2 147.3L696.4 148.8L690.7 144.5L686 139.7L682.6 135.9Z"/>
<path fill="#dcf0ab" d="M688 137.5L693 140L697 144L694 145Z"/>
<path fill="#e3f3ab" d="M694 130L697 127L700.5 126.4L702.6 130L701.5 134L698 135L695 133.5Z"/>
<path fill="#cfeaaf" d="M686.9 122.5L690 121.6L694.5 124L693 127.5L689.5 128.3L687.5 126Z"/>
<path fill="#5aa9c1" d="M718.8 132L721 131.6L723.5 136L726.5 140L727.9 143L725.5 143.5L722 139.5L719.5 136Z"/>
<path fill="#7fc8b9" d="M712.6 134.5L714.5 134L717 137.5L719.3 141L717.5 141.6L714.5 138Z"/>
<path fill="#86cab8" d="M710.7 98L713 97.8L716.5 101.5L719.3 105.5L717.5 106.4L713.5 102.5Z M715 111.8L717 111.6L717.4 114.5L715.3 114.2Z M719.3 121L722 120.7L724 123.3L721.5 123.5Z M726.9 124.7L730 124.5L730.7 126.4L727.5 126.3Z M658.3 97L660.2 97L660 98.3L658.4 98.2Z"/>
<path fill="#dcf0ab" d="M724 108L727 106.4L729.8 109L729 113L725.5 114L724.3 111Z"/>
<path fill="#64b0bf" d="M721.4 155L724 155.5L727.1 160L726 162.9L723 160Z"/>
<path fill="#b6e0b4" d="M731.4 171L735 170L739.3 174L737 177.1L733 176Z"/>

<path fill="#daefab" d="M767 102L772 98.6L780 100L786.4 106L785 112L779 115.7L772 112L768 107Z"/>
<path fill="#93d1b7" d="M768.5 99L775 98.2L773 103L769.5 102Z"/>
<path fill="#7fc8b9" d="M760 96.5L775.7 96.5L775.7 98L760 98Z"/>
<path fill="#d7eeab" d="M777 119L782 118.6L785.7 122L782 124.3L778 123Z"/>

<path fill="#6fb9bd" d="M244.8 896L246.7 896.5L246.5 900L244.8 899.5Z"/>
<path fill="#8ccdb8" d="M235.2 904L238.1 904L237.5 905.7L235.5 905.5Z M229 910L231 910.5L230.5 912.5L229 912Z"/>
<path fill="#9dd5b6" d="M257.1 833L260 832.4L261.9 838L259 840Z"/>
<path fill="#d9efab" d="M232 806L238 805.5L236 807.5Z M228 838L231 836L232 842L229 843Z M240 866L243 866L242 868Z M252 828L254 826L255 830Z M258 885L261 884L260 888Z"/>
<!-- left strip -->
<path fill="#d9efab" d="M184.6 156L191.4 154.3L199.1 153.4L200 158.6L206.9 163.7L203.4 168L196.6 166.3L191.4 163.7L186.3 160.3Z"/>
<path fill="#a3d7b5" d="M198 159L203 162L206.5 164L203.4 167.5L199 165Z"/>
<path fill="#ddf0aa" d="M208 106L214 103L221.4 102L218 107L212 108.9Z"/>
<path fill="#c4e6b1" d="M161.4 107.1L171.7 107.1L171.7 108.9L161.4 108.9Z"/>
<path fill="#86cab8" d="M202.6 106.3L206 107L205.5 108L202.6 107.8Z"/>
<path fill="#eef7c6" d="M147.7 173.1L152 173.5L156 176L158.9 183L157 190L152 192.9L148 190Z"/>
<path fill="#7fc8b9" d="M169.1 185.1L171.5 185.5L174 188L176 190.3L172 190L170 188Z"/>
<path fill="#d4edac" d="M188 189.4L191 190L195 194L197.4 199L196 200.6L192 197L189 193Z"/>
<path fill="#e9f5ac" d="M167.4 197.1L172 198L175.1 203L174 209.1L169 208L167.5 203Z"/>
<path fill="#86cab8" d="M162.3 214.3L165 214.5L167.4 216.5L165 218.6L162.5 217.5Z"/>
<path fill="#d4edac" d="M194 242.6L198 243L203.4 248L202 252L197 250Z"/>
<path fill="#8ccdb8" d="M223.1 187.7L225 188.5L227.4 192L226 192.9Z M182.9 198.9L184.6 199.5L184.2 201.4L183 201Z"/>
<path fill="#c9e9b0" d="M207.7 248.6L212 249L211 251.1L208 250.5Z M154.6 281.1L157 282L159.7 286.3L156 285Z M171.7 282L174.3 282.5L174 283.7L171.8 283.5Z M148.6 342.9L150.3 343.5L150 345.4L148.6 345Z"/>
<path fill="#cfeaaf" d="M175 353L176.5 354L176 356Z M178 360L180 361L179 363Z M181 364L183.7 365L182 367.7Z M170.9 400.3L174 402L176.9 406L175 408Z M174 410L176 410.5L175 412.3Z M171.7 428.6L176 430L180 433L178 435Z M182 434L184.6 435L183 438Z M164 441.4L166 442L167.4 445L165 448.3Z"/>
<path fill="#f1f8d2" d="M147.7 422.6L153 425L155 430L157.1 437L153 443.1L147.7 441Z"/>
<path fill="#d2ecad" d="M167.4 458.5L174 458L181.1 460L179 465L172 466.6L168 464Z"/>
<path fill="#eef7c8" d="M147.7 480.3L152 480L156 483L157.1 488L153 491.4L148 490Z"/>
<path fill="#c6e7b1" d="M221.4 467L224 464L229 465L233 470L236 473L232 474L227 470L223 469Z"/>
<path fill="#82c9b9" d="M232.6 473L236 472.6L239.4 475.5L238 478.6L234 477.5Z"/>
<path fill="#8ccdb8" d="M232.6 451.5L235.5 451L236.9 453.5L234.5 455.4Z"/>
<path fill="#d0ebae" d="M176 462L179 463L185 472L183 473Z M181 467L184 468L188 476L186 477Z M187 470L190 471L194 480L192 481Z M178 476L181 477L186 484L184 485Z M193 484L198 485L199 490L195 489Z M148 470L151 469L152 472Z M158 471L161 470L162 474Z"/>
<path fill="#6fb9bd" d="M152 557L155 556.6L157.1 560L154 566L152 565Z M160.6 561L165 560L169.1 562L165 565.1L161 564Z"/>
<path fill="#cfeaaf" d="M246.3 533L249 534L248 537Z M252 536L255 537L254 540Z M256 539L258.3 540L257 542.9Z M225.7 516L229 515.4L230.9 518L228 520.6Z M153.7 613L157.1 614L155 615.4Z M164 645.4L165.7 646L165 647.1Z M149.4 675L153.7 674.6L152 678Z M175 669.4L176.9 670L176 670.6Z M158.9 694L162.3 693.4L160.5 696Z"/>
<path fill="#86cab8" d="M235 614L238 613.5L240 615.5L237 617Z"/>

<path fill="#5eaac2" d="M431 603L434 601.3L437.5 602L439.3 606L438.5 610L435 611.3L431.5 609Z"/>
<path fill="#7fc8b9" d="M412 605.5L415 604L418 605.5L417 608.7L413.5 608Z"/>
<path fill="#4497bf" d="M336.7 634L339 632.7L342.7 634L341 636.7L338 636.5Z"/>
<path fill="#6fb9bd" d="M399.3 629.5L401 629.3L402 633.3L400 633Z M420 634L422 634L422 636.7L420 636.5Z M428.7 626L430.7 626.5L430 628.7L428.7 628Z M414 639.3L416 640L418.7 645L417 646.7L415 643Z M427.3 653.5L434 653.3L433 655.3L427.5 655Z M438 649L441 645L442.7 644L441 648L439 650.7Z"/>
<path fill="#c6e7b1" d="M428 617L431 614L434 613.3L433 619L430 621.3Z M443.3 639.5L445.3 640L444.5 641.3Z M370.7 606L373 605.3L376 606.5L374 609Z M371 613L373 612L374 615L371.5 616Z M366 610L370 609.3L369 611.3L366.5 611Z M336 654L339.3 653.3L338 654.7Z"/>
<path fill="#dff1aa" d="M419.3 648L423 647L427.3 646.7L424 650L421 652.7Z M412 581L414 583L418 585L421 589L419 589.5L415 586Z M404 620L405 623L404 627Z M354.7 646L356 644L357.5 646.5Z M360 638L362 637L361 641Z M365 633L367 633.5L366 636Z"/>

<path fill="#86cab8" d="M420 229.5L424 229L426 232L425 235.5L421 236Z"/>
<path fill="#c2e5b2" d="M440.7 245L445 244L448.3 249L447 253L443 251Z"/>
<path fill="#a9dab5" d="M443.8 256L446 256L449.9 265L449 268.3L446 265Z"/>
<path fill="#e0f2aa" d="M451 240L456 239.4L457.5 245L456 250.8L452 250Z"/>
</g>
<g fill="none" stroke="#b3b3b3" stroke-width="1" stroke-dasharray="4 3" shape-rendering="crispEdges">
<path d="M274.3 237.1L278.6 234.3L285.7 230.7L290 228.6L288.6 225.7L285 218.6L282.1 208.6L280.7 197.1L280.7 187.1L282.9 175.7L285.7 165.7L290 157.1L295.7 148.6L302.9 141.4L310 135.7L318.6 129.3L327.1 125L335.7 123.1L350 122.1L362.9 122.1L367.1 118.6L378.6 112.9L390 106.4L400 102.1L405.7 99.3L418.6 97.1L431.4 97.1L442.9 99.3L454.3 102.1L461.4 105.7L470 108.6L480 109.3L491.4 109.7L500.7 110.3L497.1 114.3L488.6 117.4L478.6 118.3L470 115L467.1 125L471.4 125.7L480 127.4L488.6 130.7L500 131.4L508.6 133.6L514.3 135.7L521.4 132.6L530 132.6L538.6 135.7L542.9 140L546.4 147.1L547.1 155.7L545.7 164.3L542.9 171.4L544.3 174.3L550 176.4L558.6 177.9L564.3 180.7L572.9 185.7L578.6 190L584.3 198.6L588.6 205.7L594.3 212.9L600 221.4L604.3 230L607.1 238.6"/>

<path d="M274.3 240L265.7 248.6L258.6 255.7L255.7 264.3L252.1 274.3L250.7 285.7L250.7 297.1L252.1 310L255.7 322.9L261.4 328.6L268.6 327.9L275.7 325.7L282.9 320L290 312.9L292.9 305.7L293.6 297.1L294.3 285.7L294.3 284.3L301.4 284.3L310 282.1L317.1 280.7L320.7 279.3L321.4 287.1L321.4 291.4L324.3 295.7L326.4 298.6L321.4 305.7L324.3 309.3L327.1 312.9L332.1 317.1L333.6 322.9L330.7 325.7L330 330L325 332.9L323.6 341.4L324.3 350L327.9 352.9L328.6 358.6L330 364.3L330.7 368.6L328.6 372.9L321.4 375.7L317.1 377.1L316.4 381.4L314.3 385.7L314.3 390L315 392.9L318.6 401.4L320 408.6L324.3 415.7L322.9 420L317.9 421.4L317.9 430L321.4 437.1L328.6 445.7L335.7 451.4L344.3 454.3L350 460L354.3 468.6L360 475.7L364.3 482.9L371.4 488.6L380 491.4L387.1 495L400 498.6L408.6 502.1L418.6 501.4L421.4 504.3L422.9 508.6L427.1 512.9L434.3 517.9L441.4 520.7L448.6 521.4L455.7 519.3L460 515.7L464.3 515.7L470 519.3L477.1 520.7L484.3 519.3L485.7 516.4L491.4 515.7L497.1 512.9L504.3 508.6L512.9 504.3L518.6 502.9L525.7 498.6L530 494.3L533.6 488.6L535.7 481.4L536.4 474.3L541.4 472.9L550 470.7L552.9 468.6L557.9 463.6L559.3 457.1L560 451.4"/>
<path d="M607.1 238.6L610 240L617.1 245.7L620 252.9L622.9 260L627.9 265.7L628.6 275.7L629.3 287.1L626.4 295.7L624.3 307.1L625.7 317.1L623.6 325.7L617.1 334.3L608.6 342.9L602.9 352.9L595.7 360L587.1 368.6L578.6 377.1L570 382.9L560 387.1L551.4 385.7"/>
<path d="M527.1 398.6L524.3 405.7L524.3 412.9L528.6 420L531.4 425.7L534.3 431.4L532.9 438.6L535.7 447.1L540 454.3L545.7 457.1L550 457.9"/>
<path d="M335.7 273L338.6 280M344.3 265L348 263L352 264.5L355.7 270L352 274.3L346 273"/>
<path d="M692.9 241.4L700 248.6"/>

<path d="M661.4 113.6L668.6 110L677.1 107.1L688.6 106.4L700 106.4L710 107.9L720 110.7L730 112.1L740 112.1L748.6 112.9L760 116.4L770 120L778.6 125.7L787.1 132.1L794.3 138.6L800 147.1L802.9 153.6L797.1 155.7L788.6 157.1L780 157.1L775.7 155L772.9 157.1L770.7 164.3L772.9 174.3L775.7 182.9L777.9 191.4L777.9 200L777.4 200"/>
<path d="M661 188L664 192M666 196L668 201L671 202M676 201L680 204M684 203L686 207M662 208L666 213M748 205L752 210M750 215L754 217M756 222L760 228M757 231L761 236"/>

<path d="M250.5 765.7L265.7 770.5L273.3 779L276.2 788.6L281 798.1L288.6 805.7L292.4 815.2L294.3 824.8L292.4 836.2L293.3 849.5L294.3 861L292.4 878.1L303.8 887.6L313.3 897.1L317.1 910.5L313.3 921.9L305.7 929.5L292.4 932.4L281 930.5L271.4 932.4L261.9 931.4L257.1 929.5L254.3 935.2L250.5 941L241 947.6L229.5 951.4L220 952.4L210.5 949.5L202.9 942.9L198.1 933.3L197.1 930.5L187.6 931.4L178.1 925.7L171.4 916.2L169.5 904.8L171.4 895.2L178.1 887.6L188.6 883.8L188.6 874.3L184.8 866.7L184.8 854.3L178.1 859L168.6 861.9L159 859L151.4 851.4L148.6 840L151.4 828.6L159 821L170.5 818.1L180 821L184.8 824.8L185.7 830.5L191.4 824.8L197.1 815.2L201 803.8L201.9 794.3L202.9 784.8L206.7 777.1L216.2 772.4L227.6 769.5L239 767.6L250.5 765.7"/>
<path d="M206 785L212 779L220 776L228 775M210 790L218 784L226 781L234 779L241 775M222 788L230 785L238 783M204 804L210 799L216 797M199 815L206 810L214 806L221 805M197 826L204 821L212 818M188 834L196 830L204 829M266 793L272 796L276 801M267 804L272 808L274 815M270 818L276 822L278 828L275 833M283 822L288 826L290 832L286 836"/>

<path d="M399.3 551.3L410 552.3L418 553.3L424.7 556.7L429.3 561.3L434 569.3L428.7 568.7L422 566L414 562.7L406 558.7L399.3 551.3"/>
<path d="M615.6 131.4L619.6 131.4L621.3 132.6L620.4 134.6M623.6 137.7L624.4 141.7L626.4 143.7L628.7 140.3M631.6 143.7L629.3 144.6M613.3 141.1L615.9 142.6M614.1 147.4L616.4 151.7M617.3 146.3L619.6 149.1L621.6 150.6M625.3 150.6L628.7 148.3M618.1 154.6L623 154.6M624.4 157.5L624.4 160"/>
<path d="M605.7 107.1L604.3 114.3L605 121.4L602.9 124.3L608.6 131.4L615.7 131.4"/>
<path d="M609.3 107.1L617.1 114.3L627.1 125.7L634.3 137.1L635.7 132.9L642.9 125.7L650 120.7L658.6 115.7L667.1 111.4L674.3 110L682.9 107.1L692.9 106.9L697.1 107.9"/>
<path d="M618.6 154.3L624.3 158.6L630 170L634.3 178.6L635.7 187.1L638.6 192.9L647.1 200L655.7 203.6L662.9 208.6L671.1 204.6L676.9 210.3L680.9 213.7L681.4 222.9L683.1 229.7L686 235.4L692.9 242.3L698.6 248L706.6 256L713.4 260L721.4 262.3L730.6 263.4L738.6 261.7L747.7 259.4L754.6 256L759.1 250.3L762.6 244.6L764.9 235.4L765.4 227.4L763.7 217.1L767.1 213.7L772.9 208L777.4 200"/>
<path d="M332.9 228L336 224.5L341 225L345 229L345.7 234L343 238.6L337 238L333 233Z"/>
</g>
<path fill="#747474" d="M331.5 331.5L334.5 330.5L334 334.5Z M337 338L339.5 335L340 338.5L338 340Z M326.5 351L329.5 351.5L328.5 352.5Z M335 358.5L336.5 358.5L336.5 361.5L335 361Z"/>
<g fill="none" stroke="#747474" stroke-width="1" shape-rendering="crispEdges">
<path d="M410.2 228.3L420.9 232.9L419 237.5L408.3 231.4Z"/>
<path d="M420.9 227.6L420.1 233.3L422.4 234.8L428.5 237.9L428.5 241.7L433.1 244.3L439.2 232.5L435 230.2L433.1 233.3Z"/>
<path d="M446.8 245.5L453.7 233.3L456.7 233.3L458.2 235.2L458.6 250.8L456 252.3L450.6 251.2L449.9 246.2Z"/>

<path d="M225.7 817.1L229.5 812.4L237.1 816.2L240 808.6L243.8 809.5L243.8 816.2L247.6 818.1L247.6 822.9L231.4 823.8Z"/>
<path d="M218.1 827.6L221 824.8L231.4 827.6L230.5 832.4L218.5 828.5Z"/>
<path d="M234.3 826.7L255.2 832L255.2 842.3L244.8 839L243.8 836.2L237.1 835.2L235.2 833.3Z"/>
<path d="M230.5 832.4L227.6 840L223.8 849.5L226.7 855.2L229.5 862.9L226.7 866.7L223.8 872.4L221 878.1L219 889.5L221.9 892.4L230.5 892.4L230.5 894.3L221.9 894.3L221 904.8L221.9 914.3L227.6 919L229.5 925.7L234.3 928.6L236.2 920L237.1 914.3L242.9 910.5L245.7 904.8L249.5 905.7L251.4 904.8L248.6 897.1L245.7 891.4L256.2 885.7L257.1 874.3L258.1 868.6L261.9 866.7L261 853.3L255.2 849.5L249.5 853.3L243.8 858.1L241 851.4L242.9 843.8L238.1 841L235.2 836.2L234.3 833.3"/>
<path d="M266.7 893.3L271.4 891.4L276.2 899L277.1 906.7L273.3 911.4L269.5 909.5L265.7 901Z"/>

<path d="M691.4 177.1L695.7 177.1L702.9 181.4L706.4 185L707.1 181.4L710.7 182.9L714.3 190L718.6 197.1L723.6 204.3L727.1 202.9L731.4 200L730 195.7L730 191.4L733.6 188.6L737.1 183.6L739.3 185.7L738.6 188.6L734.3 192.9L732.9 195.7L734.3 204.3L737.9 208.6L741.4 215.7L743.6 220L743.6 225.7L738.6 227.1L734.3 229.3L731.4 230.7L730.6 230.3L730 234.3L729.4 237.7L724.9 237.7L722.6 239.4L724.9 241.1L728.3 241.1L730.6 239.4L730 234.3M731.4 229.6L737.4 227.4L743.7 226.3M691.4 177.1L692.1 187.1L695.7 195.7L697.9 204.3L701.4 212.9L702.9 214.3L704.3 221.4L707.1 224.3L710.7 223.6L712.1 225L711.4 227.9L714.3 229.3L715 224.3L718.6 223.6L721.4 222.9L724.3 225L727.1 227.9L731.4 229.3L734.3 229.3"/>
<path d="M735.7 230.9L738.6 230.9L743.1 230.3L743.1 237.7L740.9 239.4L737.4 237.7L735.7 234.3Z"/>

<path d="M379.3 240.7L387.1 243.5L386 245.7L378.5 243Z"/>
<path d="M363.4 249.7L366.9 248.4L369.4 251.4L372.9 252.7L377.1 255.3L379.3 249.7L381.4 250.1L383.6 254L385.7 255.7L389.1 257.4L391.7 253.1L393 250.6L393.9 251.9L391.7 257.4L389.1 263.4L384.9 264.3L379.7 264.3L378 262.6L374.6 258.3L368.6 254L364.3 251.4Z"/>
<path d="M394.7 254.9L396.9 254L401.1 264.7L399 266Z"/>
<path d="M362.9 261.4L365 260L365.7 264.3L370 268.6L368.6 272.9L362.9 270Z"/>
<path d="M362.1 285L375.7 279.3L378.6 285.7L365.7 292.1Z"/>
<path d="M361.4 317.9L368.6 314.3L370 307.9L374.3 304.3L379.3 311.4L381.4 317.1L382.1 322.9L386.4 322.9L385.7 328.6L385.7 338.6L382.9 340L385 344.3L389.3 347.1L393.6 350.7L395.7 348.6L392.9 340.7L398.6 342.9L400 346.4L404.3 352.9L408.6 357.1L414.3 362.9L418.6 365.7L422.9 372.9L427.1 377.1L430.7 378.6L431.4 381.4L428.6 384.3L425.7 381.4L424.3 375.7L421.4 367.1L420.7 360.7L428.6 357.1L428.6 348.6L432.9 345.7L434.3 351.4L437.9 355.7L441.4 355.7L440.7 351.4L437.1 344.3L435 334.3L437.1 332.9L437.9 329.3L432.1 330.7L431.4 332.9L437.9 332.9L442.9 331.4L447.1 335L455.7 331.4L460 334.3L461.4 338.6L458.6 344.3L458.6 358.6L461.4 361.4L467.1 361.4L470 365.7L470 371.4L475 373.6M470 371.4L464.3 374.3L457.1 370L451.4 375L447.1 372.9L445.7 377.1L442.9 380.7L438.6 381.4L435.7 390L435 390L432.9 395.7L430 401.4L425 402.9L423.6 405L427.9 406.4L431.4 407.1L432.9 411.4L435.7 412.9L437.9 411.4L438.6 405L443.6 403.6L447.1 408.6L450 415.7L451.4 419.3L447.1 421.4L445.7 425.7L443.6 428.6L447.1 431.4L450.7 427.9L453.6 425.7L455 427.9L457.1 432.9L460 441.4L461.4 444.3"/>
<path d="M361.4 317.9L368.6 318.6L372.9 321.4L375.7 324.3L372.9 328.6L371.4 332.9L368.6 338.6L367.1 340L371.4 341.4L370 345.7L364.3 348.6L358.6 350L352.1 350L351.4 354.3L355.7 355L361.4 354.3L364.3 352.9L367.1 354.3L368.6 358.6L370 365.7L371.4 372.9L371.4 377.1L375.7 381.4L377.1 390L378.6 390L382.9 394.3L383.6 405.7L387.1 410L387.1 415.7L382.9 414.3L380 410.7L378.6 411.4L384.3 417.1L388.6 420.7L392.9 423.6L387.1 425.7L391.4 430L400 430L400 431.4L407.1 431.4L409.3 435L412.9 432.9L415.7 435.7L418.6 432.9L422.9 431.4L425.7 432.9L425 438.6L422.9 441.4L420.7 444.3L421.4 448.6L425.7 451.4L430 452.9L430.7 447.1L427.9 441.4L428.6 434.3L432.9 432.9L435.7 435.7L440 437.9L442.9 438.6L438.6 440.7L437.9 447.1L438.6 450L442.1 448.6L444.3 444.3L447.1 446.4L449.3 449.3L451.4 452.9L452.9 455.7L454.3 451.4L456.4 449.3L458.6 450L461.4 447.1L462.9 448.6L465 453.6L468.6 460L472.9 464.3L475.7 467.9L477.9 470L475.7 472.1L480 477.1L482.9 474.3L485.7 478.6L481.4 481.4L480 484.3L484.3 487.1L480.7 488.6L475.7 491.4L473.6 495L478.6 497.9L482.9 496.4L485.7 492.1L490 490L494.3 488.6L494.3 485.7L498.6 487.1L500 482.1L505.7 480L505.7 472.9L505 467.1L510 464.3L510.7 455.7L512.1 452.9L505.7 452.9L498.6 451.4L494.3 452.9L491.4 445.7L489.3 442.9L490 438.6L492.9 435.7L490 432.9L487.9 437.1L484.3 440L480 444.3L477.9 440L474.3 438.6L472.1 440L470 439.3L467.1 438.6L465.7 441.4L464.3 445.7L461.4 447.1"/>
<path d="M381.7 317.9L372.6 330.7M367.9 338.6L386.4 331.4M462.9 452.9L477.9 470"/>
<path d="M437.9 440L444.3 441L444.3 451.4L437.9 450.5Z"/>
<path d="M349.3 372.9L352 371.4L355 372.9L352 374.3Z"/>
<path d="M364.3 375L371.4 375.5L371.4 377.1L364.3 376.8Z"/>
<path d="M400.3 250.6L415.7 260.4L405.9 263.4Z"/>
<path d="M436.4 246.4L441.4 248.6L445.7 255.7L449.3 262.9L450.7 268.6L448.6 272.9L445.7 274.3L442.9 273.6L437.9 273.6L437.1 267.9L430.7 265L430.7 258.6L433.6 251.4Z"/>
<path d="M428.6 240L435.7 240L434 244.3L429.5 243Z"/>
<path d="M448.6 240L450 250.7L455 252.1L455.7 261.4L454.3 267.1L447.1 274.3L445.7 275.7M448.6 273.6L467.1 266.4L470 272.9L471.4 276.4L467.1 278.6L465.7 284.3L466.4 291.4L461.4 295L464.3 300L468.6 305.7L462.9 310L465.7 312.9L462.9 317.1L465.7 325.7L468.6 334.3L469.3 342.9L472.9 345.7L478.6 351.4L482.9 350L485.7 348.6L487.1 342.9L488.6 350L491.4 352.1L498.6 342.9L500 345.7L504.3 346.4L518.6 338.6L520 334.3L534.3 330.3L535.4 330.9L546.9 356L549.7 353.1L548 350.3L540.6 333.7L546.3 330.3L549.1 334.3L552.6 338.9L556 342.3L560.6 342.9L562.9 338.9L565.1 334.3L568.6 333.1L572 335.4L575.4 341.1L578.9 345.1L582.3 342.3L586.9 336.6L589.1 333.1L588.6 324.3L587.9 315.7L584.3 307.1L580.7 300L578.6 299.3L580 305.7L582.1 312.1L575 317.1L572.1 318.6L571.4 312.9L567.9 307.1L572.9 302.9L571.4 297.1L569.3 290L568.6 281.4L572.9 280L579.3 285.7L580.7 288.6L583.6 293.6L584.3 297.1L586.4 301.4L584.3 304.3L585.7 308.6L592.9 317.1L596.4 322.1L598.6 322.1L601.4 318.6L600 315.7L595.7 312.9L595 304.3L595.7 297.1L595.7 290L597.1 285.7L600.7 284.3L602.9 285.7L605 289.3L607.1 287.1L607.9 282.9L603.6 278.6L603.6 270.7L600 265.7L592.9 260L589.3 257.1L591.4 254.3L588.6 248.6L584.3 242.9L583.6 240"/>
<path d="M460 252.9L471.4 249.3L474.3 244.3L478.6 242.9L480 240.7L492.9 240"/>

<path d="M418.6 284L421 280L423.6 281.5L422 286.4L419 286Z"/>
<path d="M418.5 291.4a1.2 1.2 0 1 0 2.4 0a1.2 1.2 0 1 0 -2.4 0Z"/>
<path d="M433.5 290.7a1.6 1.1 0 1 0 3.2 0a1.6 1.1 0 1 0 -3.2 0Z"/>
<path d="M424.5 302.5L429 301.4L433.6 303L433 306.5L428 307.1L424.3 306Z"/>
<path d="M511.4 370.5L512.5 369.3L513.6 371L512.5 372.9Z"/>
<path d="M522.9 383L524 379.5L526 377.9L527.9 382L525 384.3Z"/>
<path d="M562.9 240.5L567.1 241L566 242.5L563.5 242.2Z"/>
<path d="M487.9 393.6L492.9 395L498.6 397.9L497.9 401.4L494.3 404.3L491.4 402.9L487.9 397.1Z"/>
<path d="M528 394.3L534.3 392.6L537.7 390.3L540 391.4L542.9 389.7L543.4 391.4L548 392.6L549.1 396L546.9 397.7L538.9 398.3L536.6 400.6L534.3 398.3L528 398.3Z"/>
<path d="M445.7 483L447 482L447.9 484L446.5 485Z"/>
<path d="M441.4 493.5L443.5 492L445 495L443 496.5Z M446 496L448.5 494.5L450.7 497.5L448 500Z"/>
<path d="M478.6 485a1 1 0 1 0 0.1 0Z"/>
<path d="M614.3 418.6L620 415L624.3 417.9L628.6 425L625.7 430L620 430.7L615 427.1Z"/>
<path d="M568 406.4L568.6 405L569.5 406.4L568.6 407.5Z"/>

<path d="M351.4 192.1L354.3 192.9L358.6 195.7L364.3 195.7L367.1 195.7L369.3 197.1L367.1 201.4L364.3 204.3L358.6 204.3L356.4 201.4L356.4 198.6L352.9 197.1L351.7 195Z"/>
<path d="M372.9 221.4L377.9 227.9L370.7 227.9Z"/>
<path d="M380 231.4L384.3 230.7L389.3 234.3L388.6 238.6L381.4 238.6L379.3 234.3Z"/>
<path d="M400 181.4L404.3 180L408.6 180.7L410 183.6L414.3 184.3L415.7 181.4L421.4 179.3L425 177.1L425.7 167.9L427.9 172.9L430 174.3L434.3 175.7L437.9 177.1L434.3 181.4L435 188.6L432.1 190L429.3 187.1L427.1 187.1L425.7 190L423.6 195.7L422.9 202.9L414.3 205.7L411.4 204.3L405.7 200L404.3 194.3L402.9 190L400 188.6"/>
<path d="M443.6 175.7L445.7 175.7L448.6 183.6L445.7 185Z"/>
<path d="M477.1 238.6L472.9 232.9L468.6 225.7L467.1 211.4L465.7 203.6L450.7 203.6L449.3 198.6L450 192.9L454.3 190.7L461.4 190L462.9 184.3L465.7 180.7L470 182.9L480 182.9L481.4 180.3L485.7 180.3L487.1 182.6L494.3 183.6L505 184.3L510 190L514.3 194.3L520 198.6L522.9 205.7L525.7 208.6L525.7 218.6L528.6 221.4L530 224.3L542.9 223.6L545.7 227.1L550 229.3L550.7 230L552 226.7L553.3 228.7L558.7 227.3L561.3 230.7L564 234.7L562.7 240L565.3 242L568 238.7L569.3 234.7L574.7 236L578 239.3L576 234.7L577.3 232L581.3 232.7L583.3 238.7L583.6 240"/>
<path d="M478.7 237.3L496 237.3L492 240L480 241.3"/>
<path d="M588.2 230.8L589.3 231.3L588.7 232.2Z"/>
<path d="M532.9 188.6L545.7 184.3L546.4 188.6L535.7 192.1Z"/>
<path d="M564.3 169L566.5 165L569.5 167L570.7 172L566 172.9Z"/>
<path d="M550.7 180L555 178.6L556.4 182L552 183.6Z"/>
<path d="M569.3 198L572 193L576.4 193.5L575 198.5L571 200Z"/>
<path d="M561 221L565.5 216.4L566.5 221L570 226.4L565 224L561.5 224Z"/>
<path d="M691.4 177.9L695.7 177.1L700 180M692.1 182.9L695.7 195.7L700 211.4M691.4 177.9L692.1 182.9"/>
</g>
</g>
<!-- colorbar -->
<rect x="898" y="153" width="28" height="744" fill="url(#cb)"/>
<g stroke="#000" stroke-width="1" fill="none" shape-rendering="crispEdges">
<path d="M926 222.5H942M926 391.5H942M926 560.5H942M926 728.5H942M926 897.5H942"/>
<!-- y axis -->
<path d="M62.5 178.5V889.5M47 178.5H62.5M47 320.5H62.5M47 462.5H62.5M47 605.5H62.5M47 747.5H62.5M47 889.5H62.5"/>
<!-- x axis -->
<path d="M159.5 986.5H870.5M159.5 986.5V1002M301.5 986.5V1002M443.5 986.5V1002M585.5 986.5V1002M727.5 986.5V1002M870.5 986.5V1002"/>
</g>
</svg>
<div class="t" style="left:-1px;width:950px;text-align:center;top:5.8px;letter-spacing:0.165px;">2010 Landcape capability - Acadia National Park</div>
<div class="t" style="left:0;width:950px;text-align:center;top:36.1px;">Northern waterthrush</div>
<div class="t" style="left:58.6px;width:200px;text-align:center;top:1019.5px;letter-spacing:0.25px;">2150000</div>
<div class="t" style="left:200.8px;width:200px;text-align:center;top:1019.5px;letter-spacing:0.25px;">2160000</div>
<div class="t" style="left:342.5px;width:200px;text-align:center;top:1019.5px;letter-spacing:0.25px;">2170000</div>
<div class="t" style="left:484.5px;width:200px;text-align:center;top:1019.5px;letter-spacing:0.25px;">2180000</div>
<div class="t" style="left:626.5px;width:200px;text-align:center;top:1019.5px;letter-spacing:0.25px;">2190000</div>
<div class="t" style="left:770.0px;width:200px;text-align:center;top:1019.5px;letter-spacing:0.25px;">2200000</div>
<div class="t yl" style="left:-82.2px;top:876.9px;">2650000</div>
<div class="t yl" style="left:-82.2px;top:734.7px;">2660000</div>
<div class="t yl" style="left:-82.2px;top:592.5px;">2670000</div>
<div class="t yl" style="left:-82.2px;top:450.4px;">2680000</div>
<div class="t yl" style="left:-82.2px;top:308.2px;">2690000</div>
<div class="t yl" style="left:-82.2px;top:166.1px;">2700000</div>
<div class="t" style="left:955.5px;top:211.7px;letter-spacing:0.5px;">0.8</div>
<div class="t" style="left:955.5px;top:379.6px;letter-spacing:0.5px;">0.6</div>
<div class="t" style="left:955.5px;top:548.5px;letter-spacing:0.5px;">0.4</div>
<div class="t" style="left:955.5px;top:718.4px;letter-spacing:0.5px;">0.2</div>
<div class="t" style="left:955.5px;top:885.8px;letter-spacing:0.5px;">0.0</div>
</body></html>
